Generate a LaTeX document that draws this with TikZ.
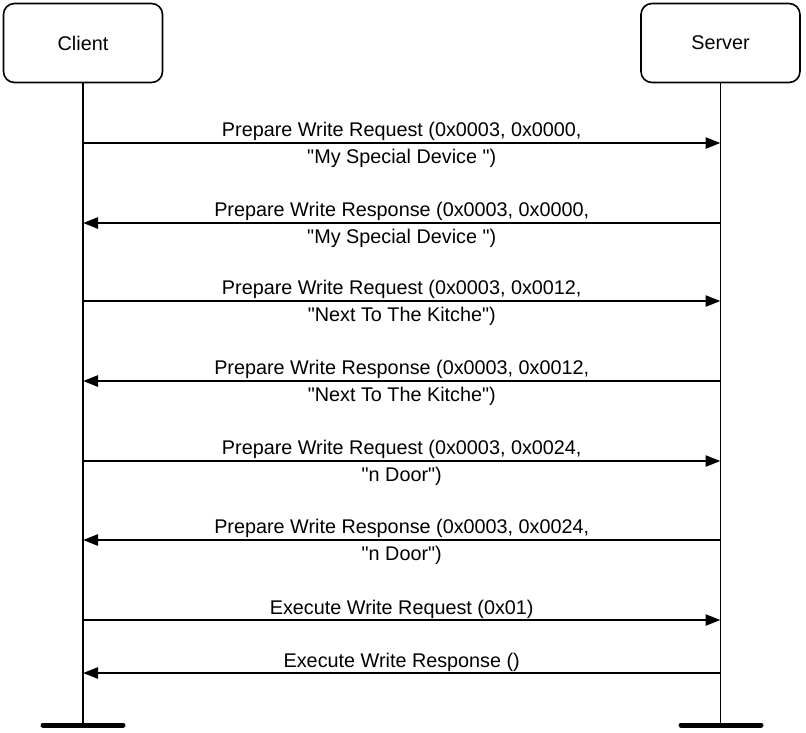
\documentclass[tikz,border=0pt]{standalone}
\usepackage{fontspec}
\setmainfont{Liberation Sans}
\usetikzlibrary{arrows.meta}
\font\plainsans="Liberation Sans" at 19.8pt
\begin{document}
\begin{tikzpicture}[x=1pt,y=-1pt,
  actor/.style={draw, line width=1.6pt, rounded corners=11pt, minimum width=159pt, minimum height=79pt, font=\plainsans, inner sep=0pt},
  life/.style={line width=1.6pt},
  foot/.style={line width=5pt, line cap=round},
  msg/.style={line width=2.6pt, -{Triangle[length=15pt,width=11pt]}},
  lbl/.style={font={\plainsans\baselineskip=27pt}, align=center, inner sep=0pt, yshift=-1.5pt},
  lbl1/.style={font=\plainsans, above, inner sep=0pt, yshift=0.5pt}]
\useasboundingbox (0,0) rectangle (806,732);
\node[actor] (client) at (83,43) {Client};
\node[actor] (server) at (720.5,43) {Server};
\coordinate (cend) at (83,725);
\coordinate (send) at (720.5,725);
\draw[life] (client.south) -- (cend);
\draw[life] (server.south) -- (send);
\coordinate (cf1) at (43,725); \coordinate (cf2) at (123,725);
\coordinate (sf1) at (681,725); \coordinate (sf2) at (761,725);
\draw[foot] (cf1) -- (cf2);
\draw[foot] (sf1) -- (sf2);
\foreach \n/\y in {1/143,2/223,3/301,4/381,5/461,6/540,7/620,8/673}{
  \coordinate (c\n) at (83,\y);
  \coordinate (s\n) at (720.5,\y);
}
\draw[msg] (c1) -- node[lbl] {Prepare Write Request (0x0003, 0x0000,\\"My Special Device ")} (s1);
\draw[msg] (s2) -- node[lbl] {Prepare Write Response (0x0003, 0x0000,\\"My Special Device ")} (c2);
\draw[msg] (c3) -- node[lbl] {Prepare Write Request (0x0003, 0x0012,\\"Next To The Kitche")} (s3);
\draw[msg] (s4) -- node[lbl] {Prepare Write Response (0x0003, 0x0012,\\"Next To The Kitche")} (c4);
\draw[msg] (c5) -- node[lbl] {Prepare Write Request (0x0003, 0x0024,\\"n Door")} (s5);
\draw[msg] (s6) -- node[lbl] {Prepare Write Response (0x0003, 0x0024,\\"n Door")} (c6);
\draw[msg] (c7) -- node[lbl1] {Execute Write Request (0x01)} (s7);
\draw[msg] (s8) -- node[lbl1] {Execute Write Response ()} (c8);
\end{tikzpicture}
\end{document}
